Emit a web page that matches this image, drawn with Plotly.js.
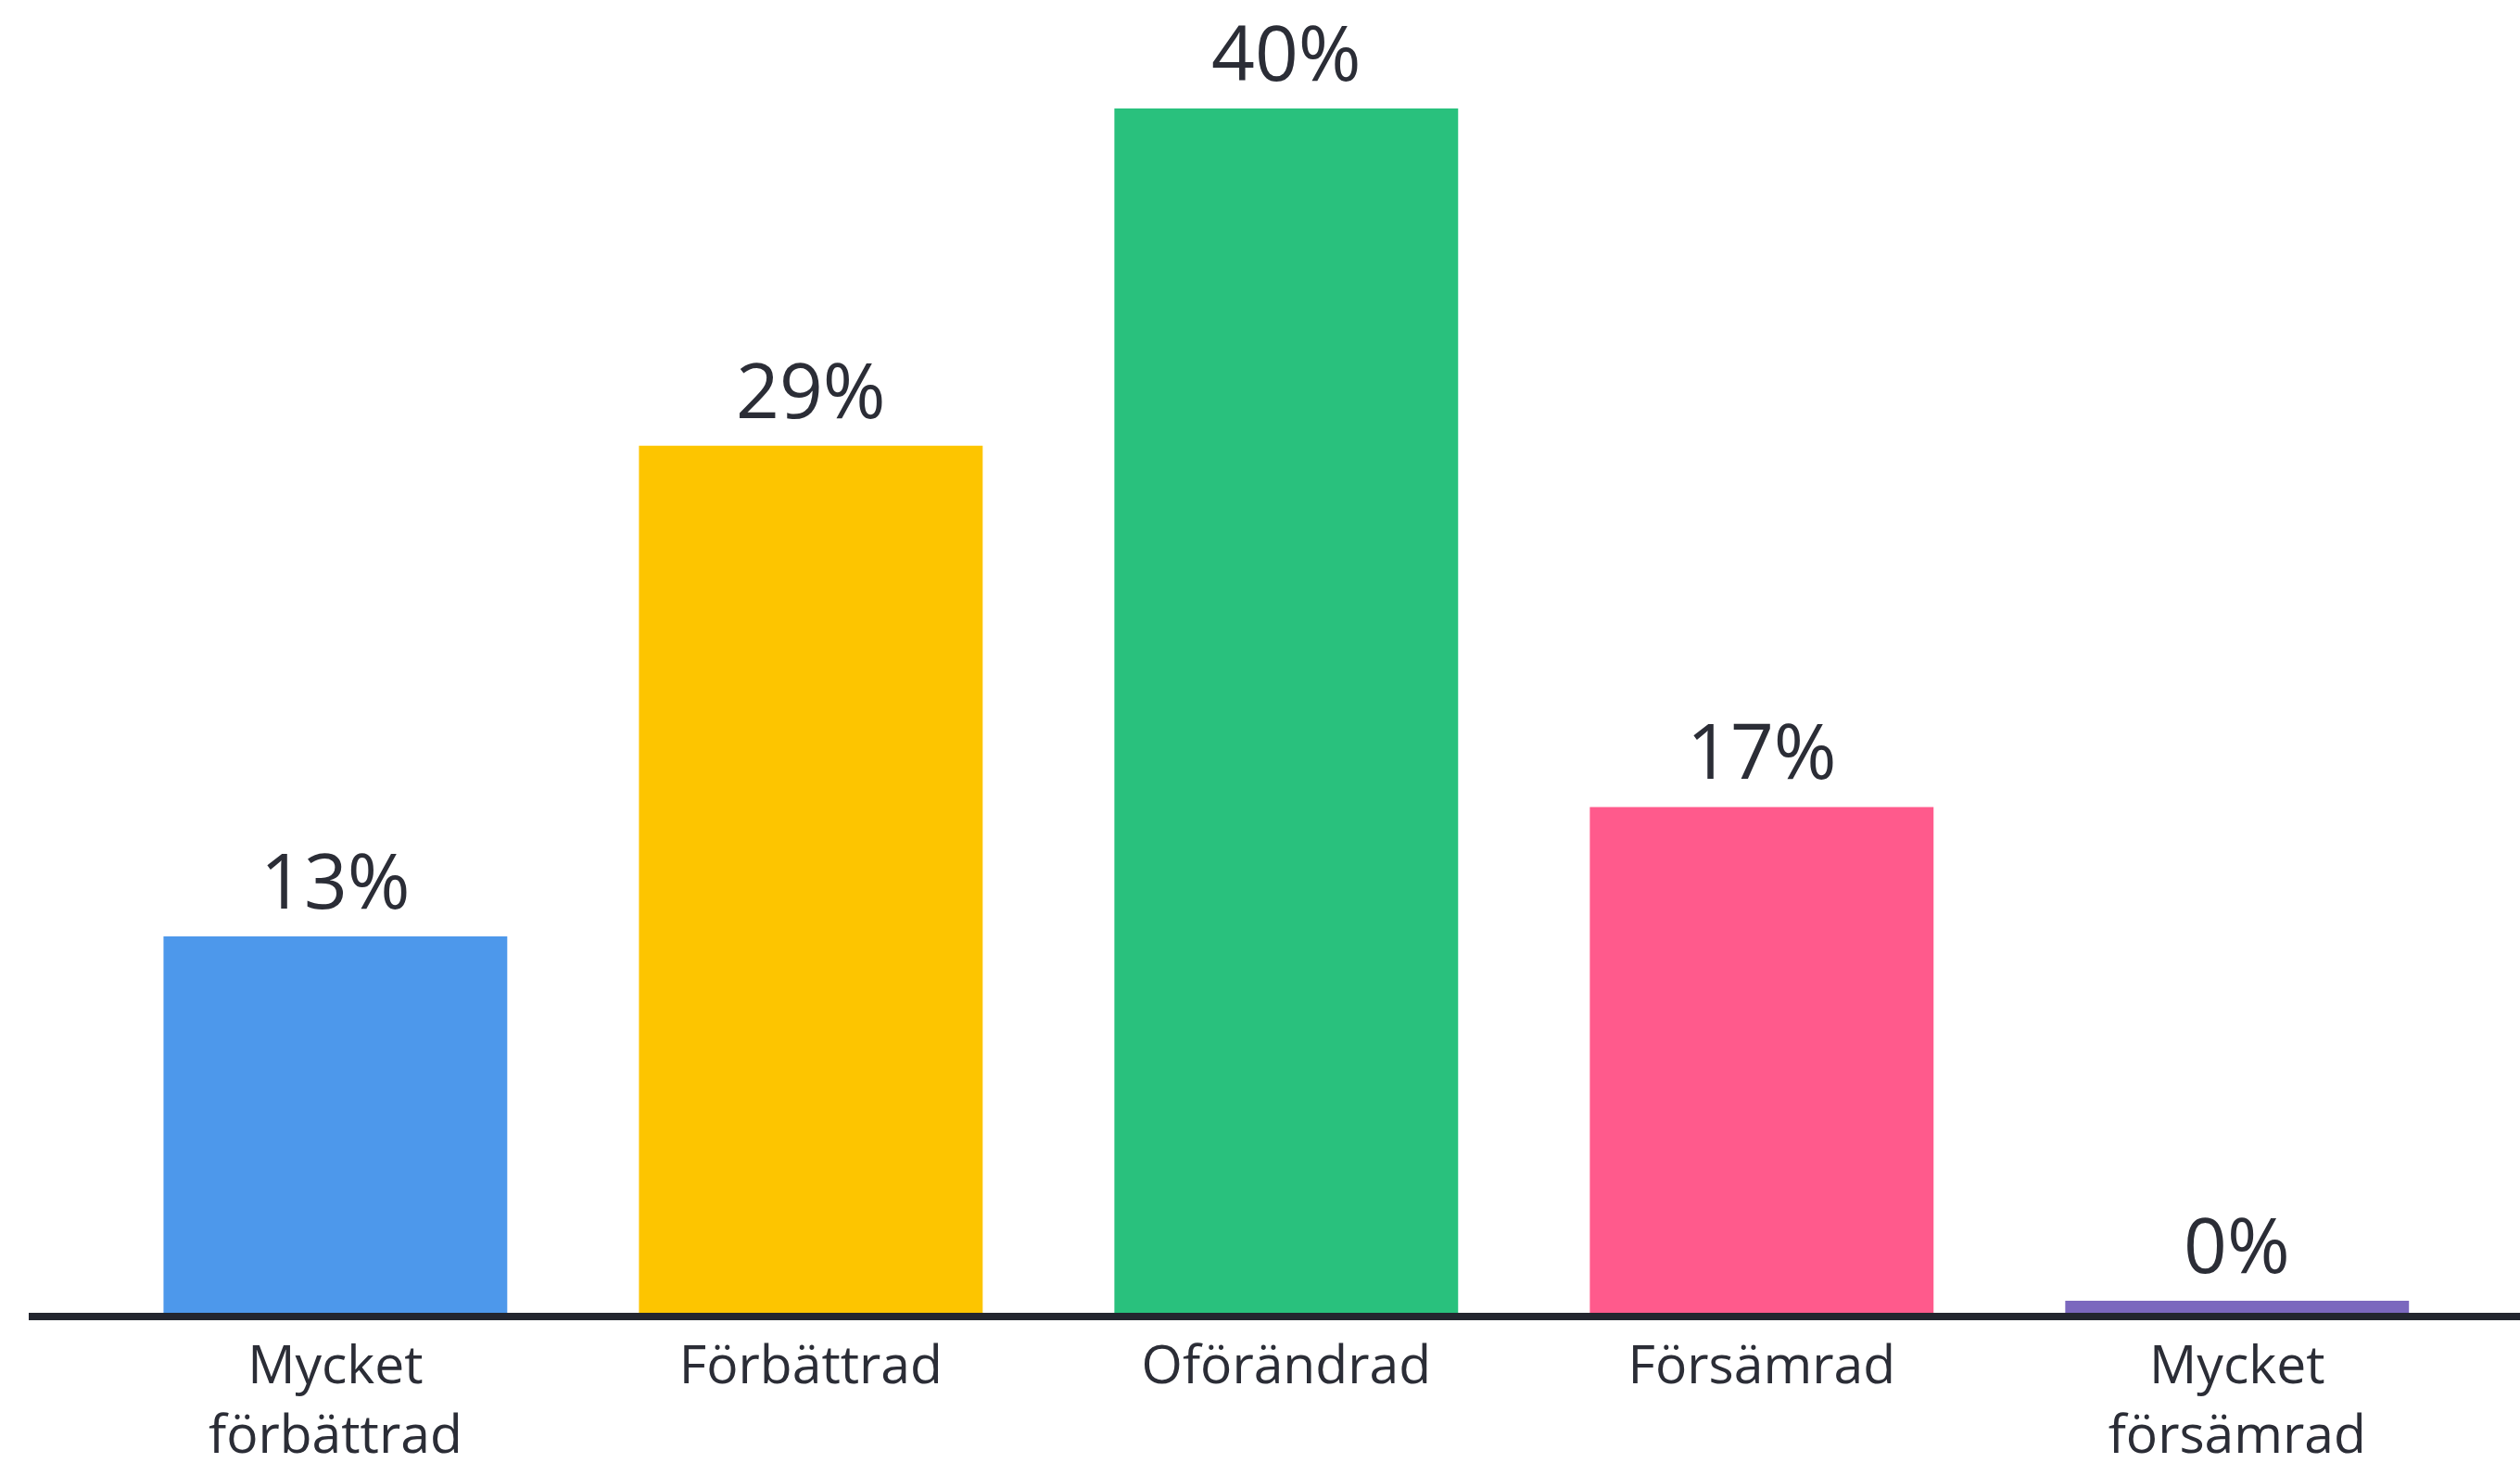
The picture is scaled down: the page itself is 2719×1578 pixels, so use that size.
<!DOCTYPE html>
<html>
<head>
<meta charset="utf-8">
<script src="https://cdn.plot.ly/plotly-3.0.1.min.js"></script>
<style>
  html, body { margin: 0; padding: 0; background: #fff; }
  #chart { width: 2719px; height: 1578px; }
</style>
</head>
<body>
<div id="chart"></div>
<script>
// kategorier och värden
var categories = ["Mycket förbättrad", "Förbättrad", "Oförändrad", "Försämrad", "Mycket försämrad"];
var tickLabels = ["Mycket<br>förbättrad", "Förbättrad", "Oförändrad", "Försämrad", "Mycket<br>försämrad"];
var values = [12.5, 28.8, 40, 16.8, 0.4];
var valueLabels = ["13%", "29%", "40%", "17%", "0%"];
var barColors = ["#4d98eb", "#fdc500", "#29c17d", "#ff5a8c", "#7b68be"];

var textColor = "#2b2d36";
var fontFamily = "'Open Sans', Lato, sans-serif";

var trace = {
    type: 'bar',
    x: categories,
    y: values,
    marker: { color: barColors },
    hoverinfo: 'none'
};

var annotations = categories.map(function (c, i) {
    return {
        x: c,
        y: values[i],
        text: valueLabels[i],
        showarrow: false,
        xanchor: 'center',
        yanchor: 'bottom',
        yshift: 4,
        font: { family: fontFamily, size: 82, weight: 400, color: textColor }
    };
});

var layout = {
    width: 2719,
    height: 1578,
    margin: { l: 31, r: 0, t: 0, b: 162 },
    paper_bgcolor: '#ffffff',
    plot_bgcolor: '#ffffff',
    bargap: 0.277,
    showlegend: false,
    xaxis: {
        type: 'category',
        range: [-0.645, 4.595],
        tickmode: 'array',
        tickvals: categories,
        ticktext: tickLabels,
        ticks: '',
        showgrid: false,
        zeroline: false,
        showline: true,
        linecolor: '#23262f',
        linewidth: 8,
        tickfont: { family: fontFamily, size: 57, weight: 400, color: textColor },
        fixedrange: true
    },
    yaxis: {
        range: [0, 43.6],
        visible: false,
        fixedrange: true
    },
    annotations: annotations
};

Plotly.newPlot('chart', [trace], layout, { displayModeBar: false, staticPlot: true });
</script>
</body>
</html>
